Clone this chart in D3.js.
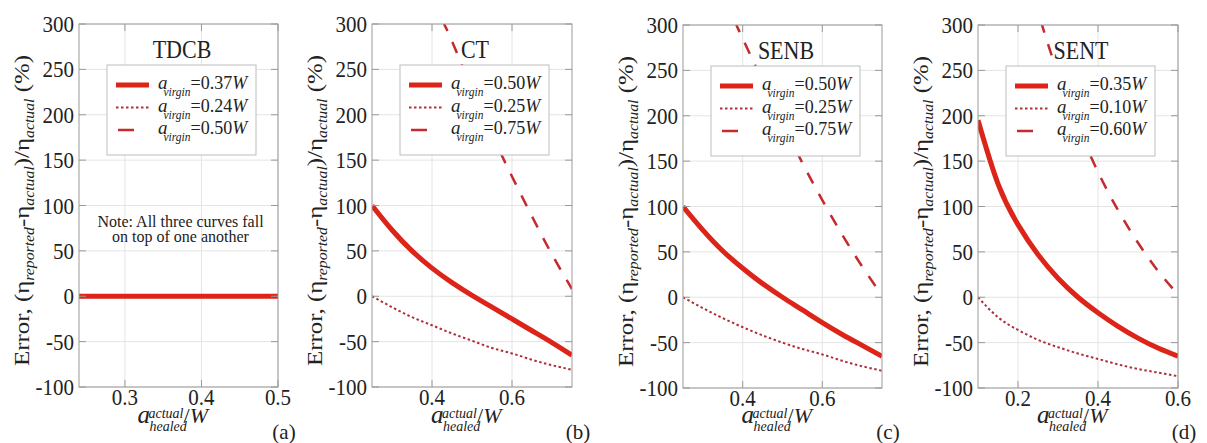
<!DOCTYPE html>
<html>
<head>
<meta charset="utf-8">
<script src="https://cdn.jsdelivr.net/npm/d3@7"></script>
<style>
  body { margin: 0; background: #fff; }
  text { font-family: 'Liberation Serif', 'DejaVu Serif', serif; fill: #222; }
</style>
</head>
<body>
<div id="chart"></div>
<script>
const width = 1207
const height = 443

// y axis is shared by all four panels
const yTicks = [-100, -50, 0, 50, 100, 150, 200, 250, 300]

// (a) TDCB - all three curves lie on the zero line
const tdcbTicks = [0.3, 0.4, 0.5]
const tdcbX = [0.24, 0.3, 0.35, 0.4, 0.45, 0.5]
const tdcbSolid = [0, 0, 0, 0, 0, 0]
const tdcbDotted = [0, 0, 0, 0, 0, 0]
const tdcbDashed = [0, 0, 0, 0, 0, 0]
const tdcbLegend = ['0.37', '0.24', '0.50']

// (b) CT
const ctTicks = [0.4, 0.6]
const ctX = [0.25, 0.3, 0.35, 0.4, 0.45, 0.5, 0.55, 0.6, 0.65, 0.7, 0.75]
const ctSolid = [100, 73, 50, 31, 15, 1, -12, -25, -38, -51, -65]
const ctDotted = [0, -12, -23, -32, -41, -49, -57, -63, -70, -76, -81]
const ctDashedX = [0.43, 0.45, 0.5, 0.55, 0.6, 0.65, 0.7, 0.75]
const ctDashed = [300, 281, 228, 178, 132, 88, 46, 8]
const ctLegend = ['0.50', '0.25', '0.75']

// (c) SENB
const senbTicks = [0.4, 0.6]
const senbX = [0.25, 0.3, 0.35, 0.4, 0.45, 0.5, 0.55, 0.6, 0.65, 0.7, 0.75]
const senbSolid = [100, 74, 51, 32, 15, 0, -14, -28, -41, -53, -65]
const senbDotted = [0, -12, -23, -33, -42, -50, -57, -63, -70, -76, -81]
const senbDashedX = [0.384, 0.4, 0.45, 0.5, 0.55, 0.6, 0.65, 0.7, 0.75]
const senbDashed = [300, 285, 238, 192, 148, 107, 69, 34, 2]
const senbLegend = ['0.50', '0.25', '0.75']

// (d) SENT
const sentTicks = [0.2, 0.4, 0.6]
const sentX = [0.1, 0.15, 0.2, 0.25, 0.3, 0.35, 0.4, 0.45, 0.5, 0.55, 0.6]
const sentSolid = [195, 125, 80, 47, 21, 0, -17, -32, -45, -56, -65]
const sentDotted = [0, -22, -36, -47, -55, -62, -68, -74, -79, -83, -87]
const sentDashedX = [0.26, 0.3, 0.35, 0.4, 0.45, 0.5, 0.55, 0.6]
const sentDashed = [300, 246, 188, 138, 96, 60, 29, 3]
const sentLegend = ['0.35', '0.10', '0.60']

const panels = [
  { key: 'a', title: 'TDCB', left: 79, right: 278, top: 24, bottom: 387, domain: [0.24, 0.5],
    ticks: tdcbTicks, legend: tdcbLegend,
    solid: [tdcbX, tdcbSolid], dotted: [tdcbX, tdcbDotted], dashed: [tdcbX, tdcbDashed] },
  { key: 'b', title: 'CT', left: 372, right: 572, top: 24, bottom: 387, domain: [0.25, 0.75],
    ticks: ctTicks, legend: ctLegend,
    solid: [ctX, ctSolid], dotted: [ctX, ctDotted], dashed: [ctDashedX, ctDashed] },
  { key: 'c', title: 'SENB', left: 683, right: 882, top: 25, bottom: 388, domain: [0.25, 0.75],
    ticks: senbTicks, legend: senbLegend,
    solid: [senbX, senbSolid], dotted: [senbX, senbDotted], dashed: [senbDashedX, senbDashed] },
  { key: 'd', title: 'SENT', left: 978, right: 1178, top: 25, bottom: 388, domain: [0.1, 0.6],
    ticks: sentTicks, legend: sentLegend,
    solid: [sentX, sentSolid], dotted: [sentX, sentDotted], dashed: [sentDashedX, sentDashed] }
]

const red = '#dc2419'
const dotRed = '#b0303a'
const dashRed = '#c42a2e'
const stretch = 1.13 // the figure is a bit taller than wide

const svg = d3.select('#chart')
  .append('svg')
  .attr('width', width)
  .attr('height', height)
  .attr('font-family', "'Liberation Serif', serif")

const defs = svg.append('defs')

panels.forEach(function(p) {
  const x = d3.scaleLinear().domain(p.domain).range([p.left, p.right])
  const y = d3.scaleLinear().domain([-100, 300]).range([p.bottom, p.top])
  const g = svg.append('g').attr('class', 'panel-' + p.key)

  defs.append('clipPath').attr('id', 'clip-' + p.key)
    .append('rect')
    .attr('x', p.left).attr('y', p.top)
    .attr('width', p.right - p.left).attr('height', p.bottom - p.top)

  // grid
  g.selectAll('.hgrid').data(yTicks).enter().append('line')
    .attr('x1', p.left).attr('x2', p.right)
    .attr('y1', d => y(d)).attr('y2', d => y(d))
    .attr('stroke', '#e4e4e4')
  g.selectAll('.vgrid').data(p.ticks).enter().append('line')
    .attr('x1', d => x(d)).attr('x2', d => x(d))
    .attr('y1', p.top).attr('y2', p.bottom)
    .attr('stroke', '#e4e4e4')

  // curves
  const line = d3.line()
    .x(d => x(d[0]))
    .y(d => y(d[1]))
    .curve(d3.curveNatural)
  const curves = g.append('g').attr('clip-path', 'url(#clip-' + p.key + ')')
  const pts = s => s[0].map((v, i) => [v, s[1][i]])

  curves.append('path').datum(pts(p.dashed))
    .attr('d', line).attr('fill', 'none')
    .attr('stroke', dashRed).attr('stroke-width', 2.5)
    .attr('stroke-dasharray', '12,12')
    .attr('stroke-dashoffset', 4)
  curves.append('path').datum(pts(p.dotted))
    .attr('d', line).attr('fill', 'none')
    .attr('stroke', dotRed).attr('stroke-width', 2)
    .attr('stroke-dasharray', '2.5,2.5')
  curves.append('path').datum(pts(p.solid))
    .attr('d', line).attr('fill', 'none')
    .attr('stroke', red).attr('stroke-width', 5)

  // frame and inward ticks
  g.append('rect')
    .attr('x', p.left).attr('y', p.top)
    .attr('width', p.right - p.left).attr('height', p.bottom - p.top)
    .attr('fill', 'none').attr('stroke', '#9a9a9a')
  g.selectAll('.ytl').data(yTicks).enter().append('line')
    .attr('x1', p.left).attr('x2', p.left + 7)
    .attr('y1', d => y(d)).attr('y2', d => y(d)).attr('stroke', '#9a9a9a')
  g.selectAll('.ytr').data(yTicks).enter().append('line')
    .attr('x1', p.right - 7).attr('x2', p.right)
    .attr('y1', d => y(d)).attr('y2', d => y(d)).attr('stroke', '#9a9a9a')
  g.selectAll('.xtb').data(p.ticks).enter().append('line')
    .attr('x1', d => x(d)).attr('x2', d => x(d))
    .attr('y1', p.bottom - 7).attr('y2', p.bottom).attr('stroke', '#9a9a9a')
  g.selectAll('.xtt').data(p.ticks).enter().append('line')
    .attr('x1', d => x(d)).attr('x2', d => x(d))
    .attr('y1', p.top).attr('y2', p.top + 7).attr('stroke', '#9a9a9a')

  // tick labels (slightly stretched vertically like the source)
  g.selectAll('.ylab').data(yTicks).enter().append('text')
    .attr('transform', d => 'translate(' + (p.left - 5) + ',' + (y(d) + 8) + ') scale(1,' + stretch + ')')
    .attr('text-anchor', 'end').attr('font-size', 21)
    .text(d => d)
  g.selectAll('.xlab').data(p.ticks).enter().append('text')
    .attr('transform', d => 'translate(' + x(d) + ',' + (p.bottom + 18) + ') scale(1,' + stretch + ')')
    .attr('text-anchor', 'middle').attr('font-size', 21)
    .text(d => d3.format('.1f')(d))

  // legend
  const lx = p.left + 28
  const ly = p.top + 41
  g.append('rect')
    .attr('x', lx).attr('y', ly).attr('width', 149).attr('height', 90)
    .attr('fill', '#fff').attr('stroke', '#bdbdbd')
  const rows = [
    { color: red, w: 5, dash: null, x1: 9, x2: 42 },
    { color: dotRed, w: 2, dash: '2.5,2.5', x1: 9, x2: 42 },
    { color: dashRed, w: 2.5, dash: null, x1: 11, x2: 27 }
  ]
  rows.forEach(function(r, i) {
    const ry = ly + 20 + i * 22.5
    g.append('line')
      .attr('x1', lx + r.x1).attr('x2', lx + r.x2)
      .attr('y1', ry).attr('y2', ry)
      .attr('stroke', r.color).attr('stroke-width', r.w)
      .attr('stroke-dasharray', r.dash)
    const t = g.append('text').attr('x', lx + 51).attr('y', ry + 4).attr('font-size', 18)
    t.append('tspan').attr('font-style', 'italic').attr('font-size', 19).text('a')
    t.append('tspan').attr('font-style', 'italic').attr('font-size', 11.5)
      .attr('dx', -4).attr('dy', 7).text('virgin')
    t.append('tspan').attr('dy', -7).text('=' + p.legend[i])
    t.append('tspan').attr('font-style', 'italic').text('W')
  })

  // title
  g.append('text')
    .attr('transform', 'translate(' + (lx + 75) + ',' + (p.top + 34) + ') scale(1,' + stretch + ')')
    .attr('text-anchor', 'middle').attr('font-size', 22)
    .text(p.title)

  // y axis title
  const cy = (p.top + p.bottom) / 2 + 5
  const yt = g.append('text')
    .attr('transform', 'translate(' + (p.left - 50) + ',' + cy + ') rotate(-90) scale(' + stretch + ',1)')
    .attr('text-anchor', 'middle').attr('font-size', 22)
  yt.append('tspan').text('Error, (η')
  yt.append('tspan').attr('font-style', 'italic').attr('font-size', 14).attr('dy', 5).text('reported')
  yt.append('tspan').attr('dy', -5).text('-η')
  yt.append('tspan').attr('font-style', 'italic').attr('font-size', 14).attr('dy', 5).text('actual')
  yt.append('tspan').attr('dy', -5).text(')/η')
  yt.append('tspan').attr('font-style', 'italic').attr('font-size', 14).attr('dy', 5).text('actual')
  yt.append('tspan').attr('dy', -5).text(' (%)')

  // x axis title
  const cx = (p.left + p.right) / 2
  g.append('text').attr('x', cx - 41).attr('y', 423)
    .attr('font-style', 'italic').attr('font-size', 25).text('a')
  g.append('text').attr('x', cx - 30).attr('y', 418)
    .attr('font-style', 'italic').attr('font-size', 14).text('actual')
  g.append('text').attr('x', cx - 29).attr('y', 431)
    .attr('font-style', 'italic').attr('font-size', 14).text('healed')
  g.append('text').attr('x', cx + 5).attr('y', 423)
    .attr('font-size', 22).html('/<tspan font-style="italic">W</tspan>')

  // panel letter
  g.append('text').attr('x', p.right + 6).attr('y', 439)
    .attr('text-anchor', 'middle').attr('font-size', 21)
    .text('(' + p.key + ')')

  if (p.key === 'a') {
    g.append('text').attr('x', cx + 2).attr('y', 227)
      .attr('text-anchor', 'middle').attr('font-size', 16)
      .text('Note: All three curves fall')
    g.append('text').attr('x', cx + 2).attr('y', 242)
      .attr('text-anchor', 'middle').attr('font-size', 16)
      .text('on top of one another')
  }
})
</script>
</body>
</html>
